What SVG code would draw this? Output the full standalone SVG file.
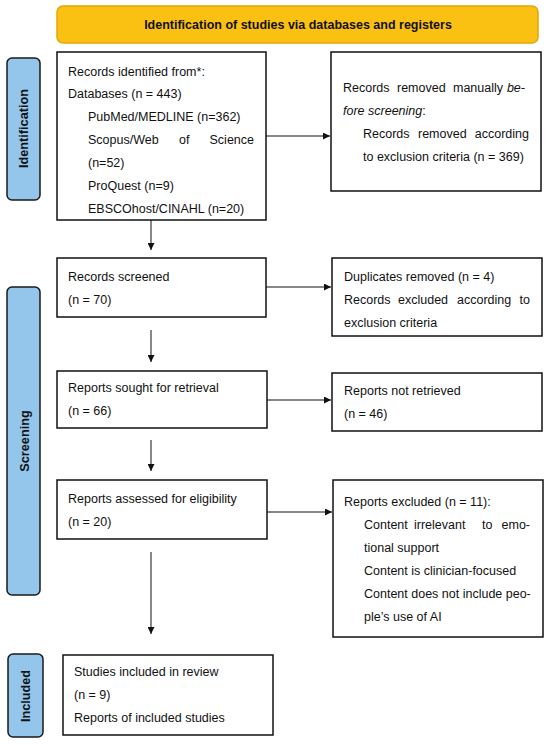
<svg xmlns="http://www.w3.org/2000/svg" width="550" height="745" viewBox="0 0 550 745">
<style>
.box{fill:#fff;stroke:#111;stroke-width:1.5}
.side{fill:#94C5EA;stroke:#1a1a1a;stroke-width:1.5}
.t{font-family:"Liberation Sans",Arial,sans-serif;font-size:12.5px;fill:#111}
.b{font-family:"Liberation Sans",Arial,sans-serif;font-size:12.7px;font-weight:bold;fill:#111}
.h{font-family:"Liberation Sans",Arial,sans-serif;font-size:12.5px;font-weight:bold;fill:#111}
.e{text-anchor:end}
.c{stroke:#111;stroke-width:1;fill:none}
</style>
<defs>
<marker id="ah" viewBox="0 0 10 10" refX="10" refY="5" markerWidth="7" markerHeight="7" markerUnits="userSpaceOnUse" orient="auto">
<path d="M0,0 L10,5 L0,10 z" fill="#111"/>
</marker>
</defs>
<rect width="550" height="745" fill="#fff"/>
<g id="header">
<rect x="57" y="6" width="481" height="37" rx="6" fill="#FBC112" stroke="#E2A60A" stroke-width="1.5"/>
<text class="h" x="298" y="29" text-anchor="middle">Identification of studies via databases and registers</text>
</g>
<g id="side-identification">
<rect class="side" x="7" y="58" width="33" height="142" rx="5"/>
<text class="b" transform="translate(28,128.5) rotate(-90)" text-anchor="middle">Identification</text>
</g>
<g id="side-screening">
<rect class="side" x="7" y="287" width="33" height="308" rx="5"/>
<text class="b" transform="translate(28.5,441) rotate(-90)" text-anchor="middle">Screening</text>
</g>
<g id="side-included">
<rect class="side" x="8" y="654" width="35" height="83" rx="5"/>
<text class="b" transform="translate(30,696) rotate(-90)" text-anchor="middle">Included</text>
</g>
<g id="records-identified">
<rect class="box" x="57" y="52" width="209" height="168"/>
<text class="t" x="68" y="76">Records identified from*:</text>
<text class="t" x="68" y="98">Databases (n = 443)</text>
<text class="t" x="88" y="121">PubMed/MEDLINE (n=362)</text>
<text class="t" x="88" y="144">Scopus/Web</text>
<text class="t" x="179" y="144">of</text>
<text class="t e" x="254" y="144">Science</text>
<text class="t" x="88" y="167">(n=52)</text>
<text class="t" x="88" y="190">ProQuest (n=9)</text>
<text class="t" x="88" y="213">EBSCOhost/CINAHL (n=20)</text>
</g>
<g id="records-removed">
<rect class="box" x="331" y="52" width="210" height="139"/>
<text class="t" x="343" y="92">Records</text>
<text class="t" x="397" y="92">removed</text>
<text class="t" x="453" y="92">manually</text>
<text class="t e" x="525" y="92" font-style="italic">be-</text>
<text class="t" x="343" y="115"><tspan font-style="italic">fore screening</tspan>:</text>
<text class="t" x="363" y="138">Records</text>
<text class="t" x="418" y="138">removed</text>
<text class="t e" x="529" y="138">according</text>
<text class="t" x="363" y="161">to exclusion criteria (n = 369)</text>
</g>
<g id="records-screened">
<rect class="box" x="57" y="258" width="209" height="59"/>
<text class="t" x="68" y="281">Records screened</text>
<text class="t" x="68" y="304">(n = 70)</text>
</g>
<g id="duplicates-removed">
<rect class="box" x="332" y="258" width="210" height="78"/>
<text class="t" x="344" y="281">Duplicates removed (n = 4)</text>
<text class="t" x="344" y="304">Records</text>
<text class="t" x="398" y="304">excluded</text>
<text class="t" x="457" y="304">according</text>
<text class="t e" x="530" y="304">to</text>
<text class="t" x="344" y="327">exclusion criteria</text>
</g>
<g id="reports-sought">
<rect class="box" x="57" y="371" width="210" height="57"/>
<text class="t" x="68" y="392">Reports sought for retrieval</text>
<text class="t" x="68" y="415">(n = 66)</text>
</g>
<g id="reports-not-retrieved">
<rect class="box" x="332" y="373" width="210" height="58"/>
<text class="t" x="344" y="395">Reports not retrieved</text>
<text class="t" x="344" y="418">(n = 46)</text>
</g>
<g id="reports-assessed">
<rect class="box" x="57" y="480" width="210" height="59"/>
<text class="t" x="68" y="503">Reports assessed for eligibility</text>
<text class="t" x="68" y="526">(n = 20)</text>
</g>
<g id="reports-excluded">
<rect class="box" x="333" y="480" width="210" height="157"/>
<text class="t" x="344" y="506">Reports excluded (n = 11):</text>
<text class="t" x="364" y="529">Content</text>
<text class="t" x="414" y="529">irrelevant</text>
<text class="t" x="482" y="529">to</text>
<text class="t e" x="530" y="529">emo-</text>
<text class="t" x="364" y="552">tional support</text>
<text class="t" x="364" y="575">Content is clinician-focused</text>
<text class="t" x="364" y="598">Content does not include peo-</text>
<text class="t" x="364" y="621">ple’s use of AI</text>
</g>
<g id="studies-included">
<rect class="box" x="63" y="655" width="210" height="80"/>
<text class="t" x="74" y="676">Studies included in review</text>
<text class="t" x="74" y="699">(n = 9)</text>
<text class="t" x="74" y="722">Reports of included studies</text>
</g>
<g id="connectors">
<line class="c" x1="266" y1="136" x2="330" y2="136" marker-end="url(#ah)"/>
<line class="c" x1="151" y1="220" x2="151" y2="250" marker-end="url(#ah)"/>
<line class="c" x1="266" y1="287" x2="331" y2="287" marker-end="url(#ah)"/>
<line class="c" x1="151" y1="330" x2="151" y2="362" marker-end="url(#ah)"/>
<line class="c" x1="267" y1="400" x2="331" y2="400" marker-end="url(#ah)"/>
<line class="c" x1="151" y1="440" x2="151" y2="471" marker-end="url(#ah)"/>
<line class="c" x1="267" y1="512" x2="332" y2="512" marker-end="url(#ah)"/>
<line class="c" x1="151" y1="552" x2="151" y2="634" marker-end="url(#ah)"/>
</g>
</svg>
